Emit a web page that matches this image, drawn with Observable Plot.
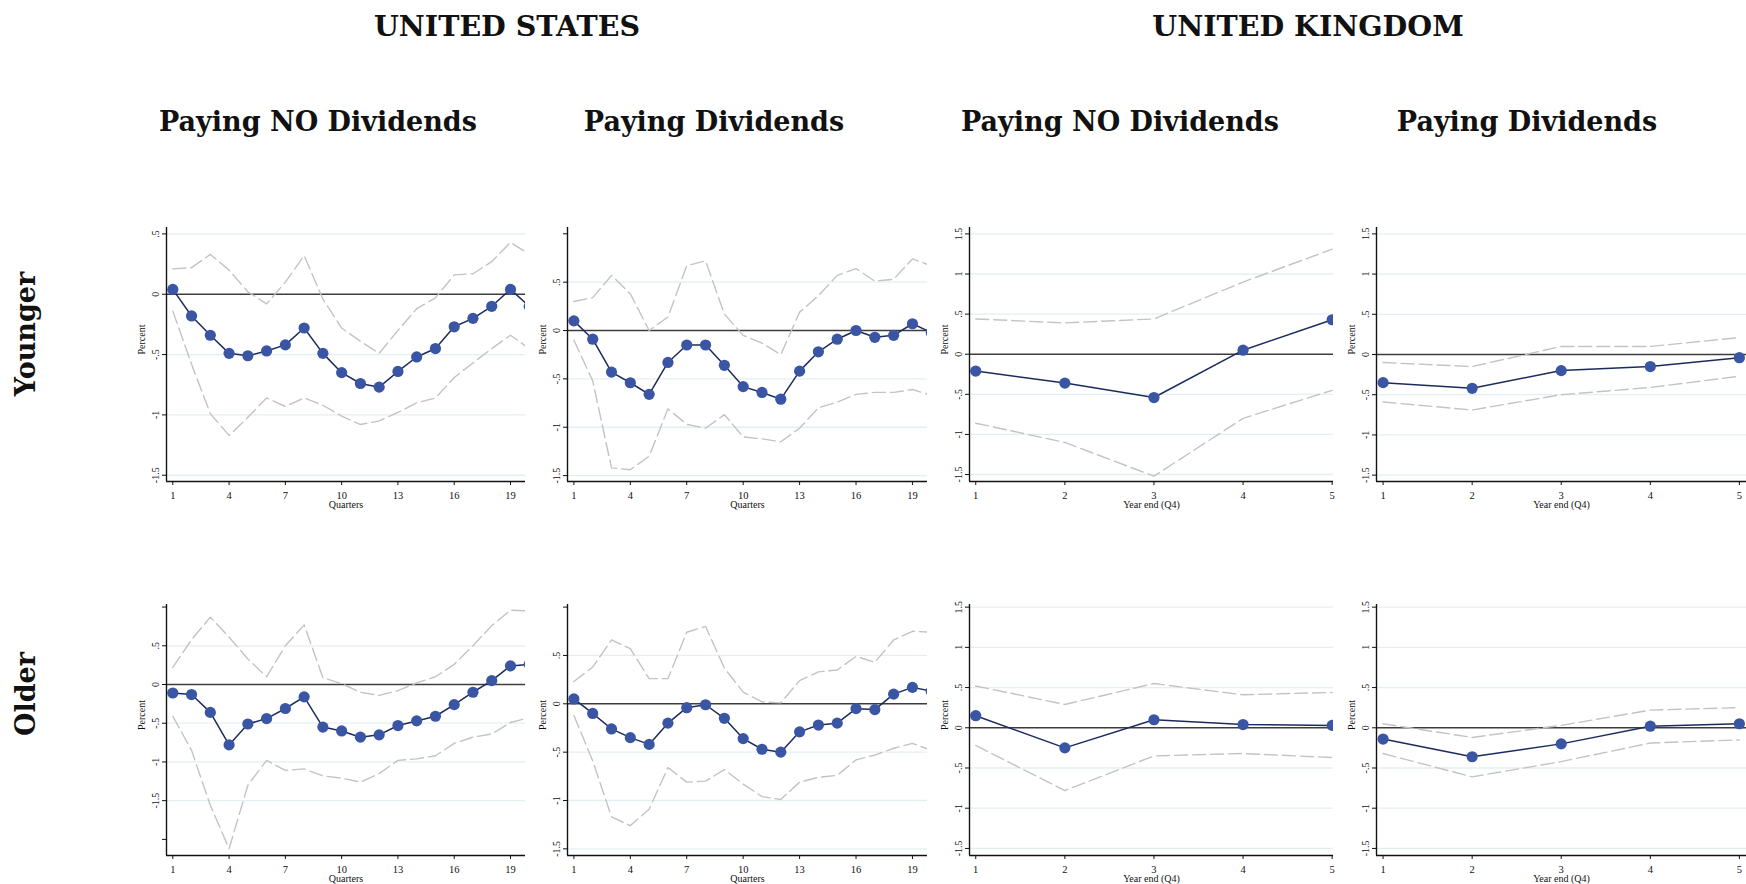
<!DOCTYPE html>
<html>
<head>
<meta charset="utf-8">
<script src="https://cdn.jsdelivr.net/npm/d3@7"></script>
<script src="https://cdn.jsdelivr.net/npm/@observablehq/plot@0.6"></script>
<style>
  html, body { margin: 0; padding: 0; background: #fff; overflow: hidden; }
  #root { position: relative; width: 1746px; height: 884px; background: #fff; }
  .hdr { position: absolute; transform: translate(-50%, -50%); font-family: "DejaVu Serif", serif; font-weight: bold; color: #111; white-space: nowrap; line-height: 1; }
  .big { font-size: 28.5px; }
  .sub { font-size: 27px; }
  .row { position: absolute; transform: translate(-50%, -50%) rotate(-90deg); font-family: "DejaVu Serif", serif; font-weight: bold; font-size: 27px; color: #111; white-space: nowrap; line-height: 1; }
</style>
</head>
<body>
<div id="root">
  <div class="hdr big" style="left:507px; top:26px;">UNITED STATES</div>
  <div class="hdr big" style="left:1308px; top:26px;">UNITED KINGDOM</div>
  <div class="hdr sub" style="left:318px; top:121px;">Paying NO Dividends</div>
  <div class="hdr sub" style="left:714px; top:121px;">Paying Dividends</div>
  <div class="hdr sub" style="left:1120px; top:121px;">Paying NO Dividends</div>
  <div class="hdr sub" style="left:1527px; top:121px;">Paying Dividends</div>
  <div class="row" style="left:25px; top:334px;">Younger</div>
  <div class="row" style="left:25px; top:694px;">Older</div>
</div>
<script>
// ---------- data ----------
const quarters = [1,2,3,4,5,6,7,8,9,10,11,12,13,14,15,16,17,18,19,20];
const years = [1,2,3,4,5];
const quarterTicks = [1,4,7,10,13,16,19];
const yearTicks = [1,2,3,4,5];

const usNoDivYoungCoef  = [0.04,-0.18,-0.34,-0.49,-0.51,-0.47,-0.42,-0.28,-0.49,-0.65,-0.74,-0.77,-0.64,-0.52,-0.45,-0.27,-0.20,-0.10,0.04,-0.10];
const usNoDivYoungUpper = [0.21,0.22,0.33,0.20,0.02,-0.08,0.10,0.32,-0.04,-0.28,-0.39,-0.49,-0.30,-0.12,-0.03,0.16,0.17,0.27,0.43,0.33];
const usNoDivYoungLower = [-0.14,-0.58,-0.99,-1.17,-1.02,-0.86,-0.93,-0.86,-0.92,-1.01,-1.08,-1.05,-0.98,-0.90,-0.86,-0.69,-0.57,-0.45,-0.34,-0.45];

const usDivYoungCoef  = [0.10,-0.09,-0.43,-0.54,-0.66,-0.33,-0.15,-0.15,-0.36,-0.58,-0.64,-0.71,-0.42,-0.22,-0.09,0.00,-0.07,-0.05,0.07,-0.02];
const usDivYoungUpper = [0.30,0.34,0.57,0.38,0.00,0.14,0.67,0.72,0.17,-0.05,-0.13,-0.25,0.19,0.36,0.57,0.64,0.51,0.53,0.74,0.67];
const usDivYoungLower = [-0.10,-0.52,-1.42,-1.44,-1.30,-0.81,-0.97,-1.01,-0.87,-1.10,-1.12,-1.15,-1.01,-0.80,-0.74,-0.66,-0.64,-0.64,-0.61,-0.67];

const ukNoDivYoungCoef  = [-0.21,-0.36,-0.54,0.05,0.43];
const ukNoDivYoungUpper = [0.44,0.39,0.44,0.90,1.31];
const ukNoDivYoungLower = [-0.86,-1.10,-1.52,-0.80,-0.45];

const ukDivYoungCoef  = [-0.35,-0.42,-0.20,-0.15,-0.04];
const ukDivYoungUpper = [-0.10,-0.15,0.10,0.10,0.21];
const ukDivYoungLower = [-0.59,-0.69,-0.50,-0.41,-0.27];

const usNoDivOldCoef  = [-0.11,-0.13,-0.36,-0.78,-0.51,-0.44,-0.31,-0.16,-0.55,-0.60,-0.68,-0.65,-0.53,-0.47,-0.41,-0.26,-0.10,0.05,0.24,0.26];
const usNoDivOldUpper = [0.22,0.58,0.87,0.61,0.33,0.10,0.50,0.77,0.09,0.01,-0.10,-0.14,-0.08,0.02,0.10,0.26,0.50,0.76,0.96,0.95];
const usNoDivOldLower = [-0.41,-0.85,-1.56,-2.12,-1.30,-0.98,-1.11,-1.09,-1.18,-1.21,-1.26,-1.15,-0.98,-0.96,-0.92,-0.76,-0.68,-0.64,-0.49,-0.43];

const usDivOldCoef  = [0.05,-0.10,-0.26,-0.35,-0.42,-0.20,-0.04,-0.01,-0.15,-0.36,-0.47,-0.50,-0.29,-0.22,-0.20,-0.05,-0.06,0.10,0.17,0.13];
const usDivOldUpper = [0.23,0.38,0.66,0.57,0.26,0.26,0.74,0.80,0.37,0.12,0.02,0.01,0.24,0.33,0.35,0.49,0.43,0.66,0.75,0.74];
const usDivOldLower = [-0.12,-0.59,-1.17,-1.26,-1.09,-0.66,-0.81,-0.80,-0.68,-0.83,-0.96,-0.99,-0.81,-0.76,-0.74,-0.58,-0.53,-0.46,-0.41,-0.48];

const ukNoDivOldCoef  = [0.15,-0.25,0.10,0.04,0.03];
const ukNoDivOldUpper = [0.52,0.29,0.55,0.41,0.44];
const ukNoDivOldLower = [-0.22,-0.78,-0.35,-0.32,-0.37];

const ukDivOldCoef  = [-0.14,-0.36,-0.20,0.02,0.05];
const ukDivOldUpper = [0.05,-0.12,0.03,0.22,0.25];
const ukDivOldLower = [-0.32,-0.61,-0.42,-0.19,-0.15];

const usYoungNoDivYTicks = [0.5,0,-0.5,-1,-1.5];
const usDivYTicks = [1,0.5,0,-0.5,-1,-1.5];
const usOldNoDivYTicks = [1,0.5,0,-0.5,-1,-1.5,-2];
const usYLabelled = [0.5,0,-0.5,-1,-1.5];
const ukYTicks = [1.5,1,0.5,0,-0.5,-1,-1.5];

// ---------- layout ----------
const panels = [
  {left:166, right:525, top:227, bottom:481, x:quarters, coef:usNoDivYoungCoef, upper:usNoDivYoungUpper, lower:usNoDivYoungLower, xDomain:[0.664,19.8], yDomain:[-1.552,0.553], xTicks:quarterTicks, yTicks:usYoungNoDivYTicks, yLab:usYLabelled, xLabel:"Quarters"},
  {left:567, right:927, top:227, bottom:481, x:quarters, coef:usDivYoungCoef, upper:usDivYoungUpper, lower:usDivYoungLower, xDomain:[0.66,19.8], yDomain:[-1.561,1.065], xTicks:quarterTicks, yTicks:usDivYTicks, yLab:usYLabelled, xLabel:"Quarters"},
  {left:969, right:1333, top:227, bottom:481, x:years, coef:ukNoDivYoungCoef, upper:ukNoDivYoungUpper, lower:ukNoDivYoungLower, xDomain:[0.93,5.015], yDomain:[-1.587,1.58], xTicks:yearTicks, yTicks:ukYTicks, yLab:ukYTicks, xLabel:"Year end (Q4)"},
  {left:1376, right:1746, top:227, bottom:481, x:years, coef:ukDivYoungCoef, upper:ukDivYoungUpper, lower:ukDivYoungLower, xDomain:[0.926,5.08], yDomain:[-1.579,1.579], xTicks:yearTicks, yTicks:ukYTicks, yLab:ukYTicks, xLabel:"Year end (Q4)"},
  {left:166, right:525, top:604, bottom:855, x:quarters, coef:usNoDivOldCoef, upper:usNoDivOldUpper, lower:usNoDivOldLower, xDomain:[0.664,19.8], yDomain:[-2.208,1.033], xTicks:quarterTicks, yTicks:usOldNoDivYTicks, yLab:usYLabelled, xLabel:"Quarters"},
  {left:567, right:927, top:604, bottom:855, x:quarters, coef:usDivOldCoef, upper:usDivOldUpper, lower:usDivOldLower, xDomain:[0.66,19.8], yDomain:[-1.569,1.027], xTicks:quarterTicks, yTicks:usDivYTicks, yLab:usYLabelled, xLabel:"Quarters"},
  {left:969, right:1333, top:604, bottom:855, x:years, coef:ukNoDivOldCoef, upper:ukNoDivOldUpper, lower:ukNoDivOldLower, xDomain:[0.93,5.015], yDomain:[-1.588,1.533], xTicks:yearTicks, yTicks:ukYTicks, yLab:ukYTicks, xLabel:"Year end (Q4)"},
  {left:1376, right:1746, top:604, bottom:855, x:years, coef:ukDivOldCoef, upper:ukDivOldUpper, lower:ukDivOldLower, xDomain:[0.926,5.08], yDomain:[-1.588,1.533], xTicks:yearTicks, yTicks:ukYTicks, yLab:ukYTicks, xLabel:"Year end (Q4)"}
];

const fmt = d => d === 0 ? "0" : (d < 0 ? "-" : "") + String(Math.abs(d)).replace(/^0\./, ".");

const root = document.getElementById("root");
for (const p of panels) {
  const mL = 50, mR = 0, mT = 8, mB = 34;
  const rows = p.x.map((x, i) => ({x, c: p.coef[i], u: p.upper[i], l: p.lower[i]}));
  const svg = Plot.plot({
    width: p.right - p.left + mL + mR,
    height: p.bottom - p.top + mT + mB,
    marginLeft: mL, marginRight: mR, marginTop: mT, marginBottom: mB,
    x: {domain: p.xDomain},
    y: {domain: p.yDomain},
    style: {fontFamily: "'Liberation Serif', serif", fontSize: "11px", background: "transparent", color: "#111", overflow: "visible"},
    marks: [
      Plot.gridY(p.yLab.filter(d => d !== 0), {stroke: "#e4eff1", strokeOpacity: 1, strokeWidth: 1.3}),
      Plot.ruleY([0], {stroke: "#3d3d3d", strokeWidth: 1.5}),
      Plot.lineY(rows, {x: "x", y: "u", stroke: "#c3c3c3", strokeWidth: 1.4, strokeDasharray: "13 5", clip: true}),
      Plot.lineY(rows, {x: "x", y: "l", stroke: "#c3c3c3", strokeWidth: 1.4, strokeDasharray: "13 5", clip: true}),
      Plot.lineY(rows, {x: "x", y: "c", stroke: "#1c2b5e", strokeWidth: 1.5, clip: true}),
      Plot.dot(rows, {x: "x", y: "c", r: 5.6, fill: "#3b55a5", stroke: "none", clip: true}),
      Plot.axisY({ticks: p.yTicks, tickFormat: d => p.yLab.includes(d) ? fmt(d) : "", tickSize: 4, tickPadding: 4, tickRotate: -90, label: null, fontSize: 10}),
      Plot.axisX({ticks: p.xTicks, tickFormat: d => String(d), tickSize: 4, tickPadding: 6, label: null, fontSize: 10.5}),
      Plot.ruleX([p.xDomain[0]], {stroke: "#111", strokeWidth: 1.4}),
      Plot.ruleY([p.yDomain[0]], {stroke: "#111", strokeWidth: 1.4}),
      Plot.text(["Percent"], {frameAnchor: "left", dx: -25, rotate: -90, fontSize: 10, fill: "#111"}),
      Plot.text([p.xLabel], {frameAnchor: "bottom", dy: 26, fontSize: 10, fill: "#111"})
    ]
  });
  svg.style.position = "absolute";
  svg.style.left = (p.left - mL) + "px";
  svg.style.top = (p.top - mT) + "px";
  root.appendChild(svg);
}
</script>
</body>
</html>
